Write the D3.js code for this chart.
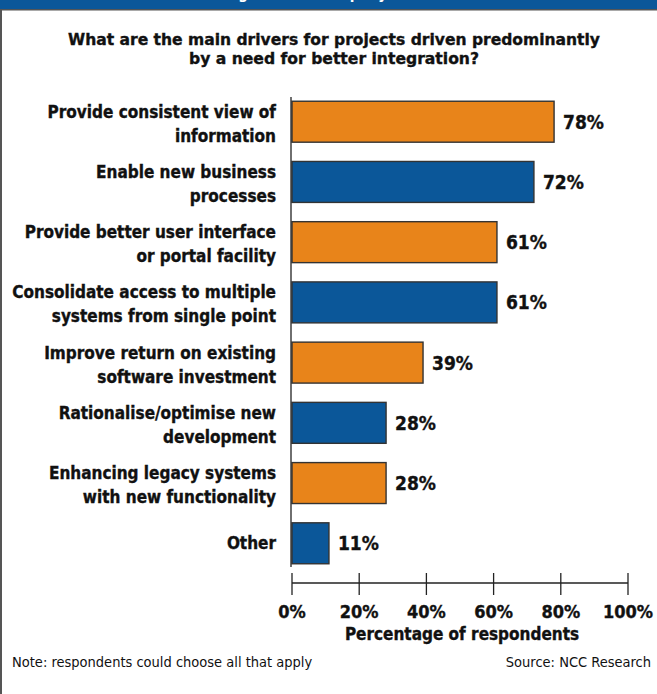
<!DOCTYPE html>
<html>
<head>
<meta charset="utf-8">
<script src="https://cdn.jsdelivr.net/npm/d3@7"></script>
<style>
  html, body { margin: 0; padding: 0; background: #fff; }
  svg { display: block; }
  text { font-family: "DejaVu Sans Condensed", "Liberation Sans Narrow", "Arial Narrow", sans-serif; fill: #111; }
  text.heavy { font-weight: bold; stroke: #111; stroke-width: 0.35px; }
</style>
</head>
<body>
<svg id="chart" width="657" height="694"></svg>
<script>
// Survey results: main drivers for integration-led projects
const categories = [
  ["Provide consistent view of", "information"],
  ["Enable new business", "processes"],
  ["Provide better user interface", "or portal facility"],
  ["Consolidate access to multiple", "systems from single point"],
  ["Improve return on existing", "software investment"],
  ["Rationalise/optimise new", "development"],
  ["Enhancing legacy systems", "with new functionality"],
  ["Other"]
];
const values = [78, 72, 61, 61, 39, 28, 28, 11];
const barColors = ["#e8841a", "#0b5799"];
const tickValues = [0, 20, 40, 60, 80, 100];
const tickLabels = ["0%", "20%", "40%", "60%", "80%", "100%"];

const svg = d3.select("#chart");
const W = 657, H = 694;

// Banner strip and frame
svg.append("rect").attr("x", 0).attr("y", 0).attr("width", W).attr("height", 9).attr("fill", "#0b5799");
svg.append("text").attr("x", 318).attr("y", -1).attr("text-anchor", "middle")
  .style("font-size", "15px").style("font-weight", "bold").style("fill", "#fff")
  .text("Integration at company level");
svg.append("rect").attr("x", 0).attr("y", 9).attr("width", W).attr("height", 1.5).attr("fill", "#555");
svg.append("rect").attr("x", 0).attr("y", 9).attr("width", 2).attr("height", H - 9).attr("fill", "#555");

// Title (two centred lines, stretched to the set widths)
const titleLines = [
  { text: "What are the main drivers for projects driven predominantly", y: 45, len: 532 },
  { text: "by a need for better integration?", y: 64, len: 290 }
];
svg.append("g").selectAll("text").data(titleLines).join("text")
  .attr("class", "heavy")
  .attr("x", d => 334 - d.len / 2)
  .attr("y", d => d.y)
  .attr("textLength", d => d.len)
  .attr("lengthAdjust", "spacingAndGlyphs")
  .style("font-size", "16.5px")
  .text(d => d.text);

// Scales
const x = d3.scaleLinear().domain([0, 100]).range([292, 628]);
const y = d3.scaleBand().domain(d3.range(values.length)).range([91, 574]).paddingInner(0.32).paddingOuter(0.17);

// Bars
svg.append("g").selectAll("rect").data(values).join("rect")
  .attr("x", x(0))
  .attr("y", (d, i) => y(i))
  .attr("width", d => x(d) - x(0))
  .attr("height", y.bandwidth())
  .attr("fill", (d, i) => barColors[i % 2])
  .attr("stroke", "#333")
  .attr("stroke-width", 1.4);

// Category axis line
svg.append("line").attr("x1", 291).attr("x2", 291).attr("y1", 97).attr("y2", 567)
  .attr("stroke", "#222").attr("stroke-width", 1.3);

// Value labels
svg.append("g").selectAll("text").data(values).join("text")
  .attr("class", "heavy")
  .attr("x", d => x(d) + 9)
  .attr("y", (d, i) => y(i) + y.bandwidth() / 2 + 7)
  .style("font-size", "19px")
  .text(d => d + "%");

// Category labels
const labels = svg.append("g").selectAll("text").data(categories).join("text")
  .attr("class", "heavy")
  .attr("text-anchor", "end")
  .style("font-size", "17px");
labels.each(function(lines, i) {
  const c = y(i) + y.bandwidth() / 2;
  const t = d3.select(this);
  if (lines.length === 1) {
    t.append("tspan").attr("x", 276).attr("y", c + 6).text(lines[0]);
  } else {
    lines.forEach((ln, k) => t.append("tspan").attr("x", 276).attr("y", c - 4 + k * 24).text(ln));
  }
});

// Value axis
const axis = svg.append("g").attr("transform", "translate(0,583)");
axis.append("line").attr("x1", x(0)).attr("x2", x(100)).attr("stroke", "#222").attr("stroke-width", 1.3);
axis.selectAll("line.tick").data(tickValues).join("line").attr("class", "tick")
  .attr("x1", d => x(d)).attr("x2", d => x(d)).attr("y1", -10).attr("y2", 12)
  .attr("stroke", "#222").attr("stroke-width", 1.3);
axis.selectAll("text.tl").data(tickValues).join("text").attr("class", "tl heavy")
  .attr("x", d => x(d)).attr("y", 35).attr("text-anchor", "middle")
  .style("font-size", "18px")
  .text((d, i) => tickLabels[i]);

svg.append("text").attr("class", "heavy").attr("x", 462).attr("y", 640).attr("text-anchor", "middle")
  .style("font-size", "17px")
  .text("Percentage of respondents");

// Footnotes
svg.append("text").attr("x", 12).attr("y", 667).style("font-size", "14.5px").text("Note: respondents could choose all that apply");
svg.append("text").attr("x", 651).attr("y", 667).attr("text-anchor", "end").style("font-size", "14.5px").text("Source: NCC Research");
</script>
</body>
</html>
